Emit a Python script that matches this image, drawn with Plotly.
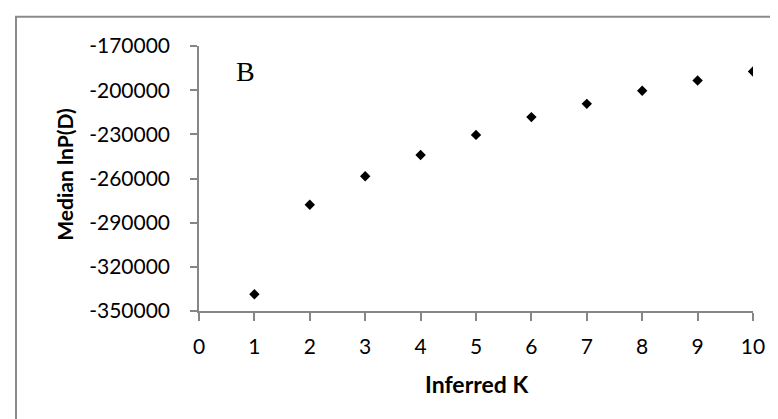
import plotly.graph_objects as go

# Data
inferred_k = [1, 2, 3, 4, 5, 6, 7, 8, 9, 10]
median_lnpd = [-338600, -277800, -258500, -244000, -230400, -218300, -209300, -200400, -193400, -187300]

x_tick_vals = [0, 1, 2, 3, 4, 5, 6, 7, 8, 9, 10]
x_tick_text = ["0", "1", "2", "3", "4", "5", "6", "7", "8", "9", "10"]
y_tick_vals = [-350000, -320000, -290000, -260000, -230000, -200000, -170000]
y_tick_text = ["-350000", "-320000", "-290000", "-260000", "-230000", "-200000", "-170000"]

W, H = 778, 419
L, R, T, B = 191, 745, 38.3, 302.7
pw, ph = R - L, B - T


def px(x):
    return (x - L) / pw


def py(y):
    return (B - y) / ph


FONT = "Lato"
AX = "#868686"

fig = go.Figure()
fig.add_trace(go.Scatter(
    x=inferred_k, y=median_lnpd, mode="markers",
    marker=dict(symbol="diamond", size=8, color="black"),
    showlegend=False,
))

fig.update_layout(
    width=W, height=H,
    margin=dict(l=L, r=W - R, t=T, b=H - B, pad=0),
    paper_bgcolor="white", plot_bgcolor="white",
    font=dict(family=FONT, size=21, color="black"),
    xaxis=dict(
        range=[0, 10], tickvals=x_tick_vals, ticktext=x_tick_text,
        showgrid=False, zeroline=False, showline=True, linecolor=AX, linewidth=1.5,
        ticks="outside", ticklen=8, tickcolor=AX, tickwidth=1.5,
        ticklabelstandoff=8,
        tickfont=dict(family=FONT, size=21, color="black"),
    ),
    yaxis=dict(
        range=[-350000, -170000], tickvals=y_tick_vals, ticktext=y_tick_text,
        showgrid=False, zeroline=False, showline=True, linecolor=AX, linewidth=1.5,
        ticks="outside", ticklen=7, tickcolor=AX, tickwidth=1.5,
        ticklabelstandoff=16,
        tickfont=dict(family=FONT, size=21, color="black"),
    ),
    shapes=[dict(
        type="rect", xref="paper", yref="paper",
        x0=px(8), x1=px(800), y0=py(440), y1=py(9),
        line=dict(color="#8a8a8a", width=2), fillcolor="rgba(0,0,0,0)", layer="below",
    )],
    annotations=[
        dict(text="<b>Median lnP(D)</b>", xref="paper", yref="paper",
             x=px(56.7), y=py(166), textangle=-90, showarrow=False,
             xanchor="center", yanchor="middle",
             font=dict(family=FONT, size=21, color="black")),
        dict(text="<b>Inferred K</b>", xref="paper", yref="paper",
             x=px(468), y=py(376), showarrow=False,
             xanchor="center", yanchor="middle",
             font=dict(family=FONT, size=23, color="black")),
        dict(text="B", xref="paper", yref="paper",
             x=px(237.5), y=py(64), showarrow=False,
             xanchor="center", yanchor="middle",
             font=dict(family="Liberation Serif", size=28, color="black")),
    ],
)

fig.write_html("out.html")
